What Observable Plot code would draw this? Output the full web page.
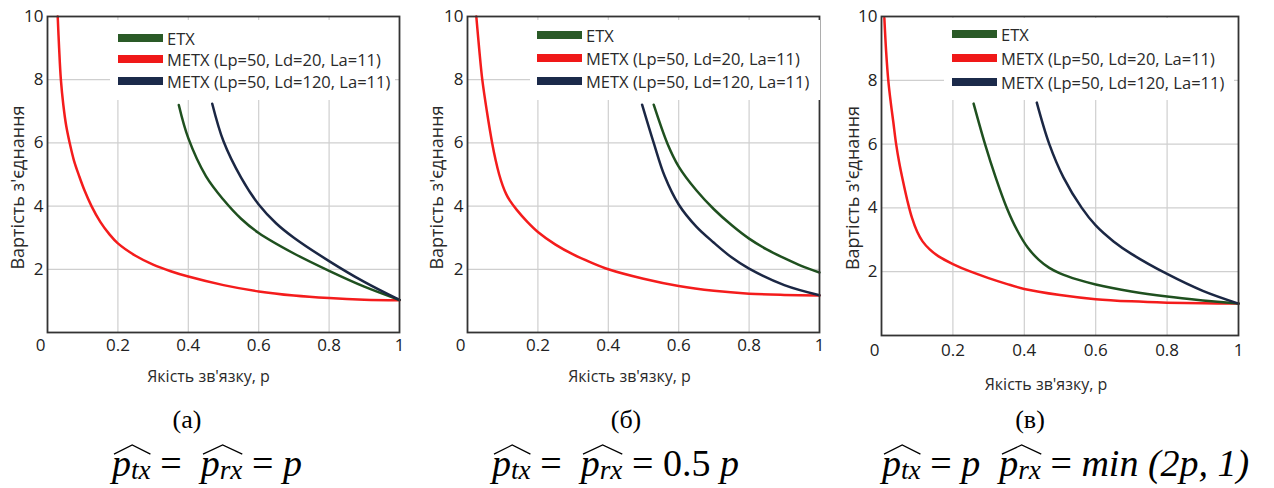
<!DOCTYPE html>
<html>
<head>
<meta charset="utf-8">
<script src="https://cdn.jsdelivr.net/npm/d3@7"></script>
<script src="https://cdn.jsdelivr.net/npm/@observablehq/plot@0.6"></script>
<style>
  body { margin: 0; background: #fff; }
  #root { position: relative; width: 1274px; height: 488px; overflow: hidden; font-family: "Open Sans", sans-serif; }
  .panel { position: absolute; top: 0; }
  .panel svg { overflow: visible; }
  .legend { position: absolute; background: #fff; font-size: 16.5px; color: #2a2a2a; }
  .row { position: absolute; left: 0; white-space: nowrap; display: flex; align-items: center; height: 20px; }
  .sw { display: inline-block; width: 45px; height: 8px; margin-right: 4px; }
  .cap { position: absolute; font-family: "Liberation Serif", "Times New Roman", serif; color: #000; white-space: nowrap; line-height: 1; }
  .f { font-style: italic; }
  .f .up { font-style: normal; }
  .hat { position: relative; display: inline-block; }
  .hat svg { position: absolute; left: 6%; top: 0.02em; width: 94%; height: 0.24em; overflow: visible; }
  .f sub { font-size: 0.72em; vertical-align: -0.12em; line-height: 0; }
</style>
</head>
<body>
<div id="root"></div>
<script>
// ---- data ----
const seriesNames = ["ETX", "METX (Lp=50, Ld=20, La=11)", "METX (Lp=50, Ld=120, La=11)"];
const seriesColors = ["#1f501f", "#f41c1c", "#1b2744"];
const legendColors = ["#2a5a27", "#f01818", "#1b2a4a"];

const xTicks = [0.2, 0.4, 0.6, 0.8, 1];
const xTickLabels = ["0.2", "0.4", "0.6", "0.8", "1"];
const yTicks = [2, 4, 6, 8, 10];
const yTickLabels = ["2", "4", "6", "8", "10"];
const gridX = [0.2, 0.4, 0.6, 0.8];
const gridY = [2, 4, 6, 8];
const xLabel = "Якість зв'язку, p";
const yLabel = "Вартість з'єднання";

// panel (а)
const etxA_p = [0.373, 0.4, 0.45, 0.5, 0.55, 0.6, 0.7, 0.8, 0.9, 1.0];
const etxA_v = [7.2, 6.15, 4.95, 4.2, 3.6, 3.15, 2.5, 1.95, 1.45, 1.03];
const metx20A_p = [0.029, 0.033, 0.038, 0.045, 0.053, 0.063, 0.075, 0.09, 0.105, 0.125, 0.15, 0.175, 0.2, 0.25, 0.3, 0.35, 0.4, 0.5, 0.6, 0.7, 0.8, 0.9, 1.0];
const metx20A_v = [10, 9.0, 8.0, 7.2, 6.55, 6.0, 5.45, 4.95, 4.5, 4.0, 3.5, 3.12, 2.82, 2.43, 2.15, 1.94, 1.77, 1.5, 1.3, 1.17, 1.09, 1.04, 1.02];
const metx120A_p = [0.468, 0.5, 0.55, 0.6, 0.65, 0.7, 0.8, 0.9, 1.0];
const metx120A_v = [7.24, 6.05, 4.9, 4.05, 3.45, 3.0, 2.26, 1.6, 1.03];

// panel (б)
const etxB_p = [0.529, 0.569, 0.6, 0.65, 0.7, 0.75, 0.8, 0.85, 0.9, 0.95, 1.0];
const etxB_v = [7.21, 5.95, 5.25, 4.5, 3.9, 3.4, 2.97, 2.63, 2.35, 2.1, 1.9];
const metx20B_p = [0.025, 0.033, 0.042, 0.055, 0.07, 0.08, 0.09, 0.1, 0.11, 0.12, 0.14, 0.17, 0.2, 0.25, 0.3, 0.35, 0.4, 0.5, 0.6, 0.7, 0.8, 0.9, 1.0];
const metx20B_v = [10, 9, 8, 7, 6, 5.45, 5.0, 4.65, 4.38, 4.18, 3.88, 3.5, 3.18, 2.78, 2.47, 2.22, 2.0, 1.7, 1.47, 1.32, 1.23, 1.19, 1.17];
const metx120B_p = [0.496, 0.529, 0.56, 0.6, 0.65, 0.7, 0.75, 0.8, 0.9, 1.0];
const metx120B_v = [7.21, 6.0, 4.95, 4.05, 3.35, 2.84, 2.38, 2.02, 1.5, 1.18];

// panel (в)
const etxC_p = [0.258, 0.29, 0.32, 0.351, 0.38, 0.41, 0.44, 0.47, 0.5, 0.55, 0.6, 0.7, 0.8, 0.9, 1.0];
const etxC_v = [7.27, 6.0, 4.95, 4.0, 3.3, 2.75, 2.38, 2.12, 1.95, 1.75, 1.6, 1.38, 1.22, 1.1, 1.0];
const metx20C_p = [0.008, 0.013, 0.019, 0.026, 0.033, 0.041, 0.05, 0.06, 0.072, 0.085, 0.1, 0.115, 0.135, 0.16, 0.2, 0.25, 0.3, 0.35, 0.4, 0.5, 0.6, 0.7, 0.8, 0.9, 1.0];
const metx20C_v = [9.95, 8.9, 8.0, 7.3, 6.7, 6.0, 5.4, 4.85, 4.25, 3.7, 3.25, 2.95, 2.7, 2.48, 2.24, 2.0, 1.8, 1.62, 1.46, 1.27, 1.14, 1.07, 1.03, 1.01, 1.0];
const metx120C_p = [0.435, 0.47, 0.51, 0.561, 0.6, 0.65, 0.7, 0.8, 0.9, 1.0];
const metx120C_v = [7.3, 6.0, 4.95, 4.0, 3.45, 2.95, 2.56, 1.93, 1.4, 1.0];

const captions = ["(а)", "(б)", "(в)"];

// ---- layout ----
const panels = [
  { left: 0, width: 420, ml: 47, mr: 21, mb: 68, tickPad: 6, xdx: -15, xdy: 49, ydx: -29, ydy: 13,
    legend: { left: 110, swLeft: 8, top: 20, w: 285, h: 80, rows: [18, 39, 61] },
    data: [[etxA_p, etxA_v], [metx20A_p, metx20A_v], [metx120A_p, metx120A_v]] },
  { left: 420, width: 420, ml: 47, mr: 21, mb: 68, tickPad: 6, xdx: -14, xdy: 49, ydx: -30, ydy: 13,
    legend: { left: 110, swLeft: 7, top: 20, w: 290, h: 80, rows: [15, 38, 61] },
    data: [[etxB_p, etxB_v], [metx20B_p, metx20B_v], [metx120B_p, metx120B_v]] },
  { left: 840, width: 434, ml: 41, mr: 36, mb: 65, tickPad: 8, xdx: -14, xdy: 54, ydx: -28, ydy: 12,
    legend: { left: 104, swLeft: 8, top: 18, w: 290, h: 82, rows: [16, 40, 64] },
    data: [[etxC_p, etxC_v], [metx20C_p, metx20C_v], [metx120C_p, metx120C_v]] }
];

const root = document.getElementById("root");

panels.forEach((cfg, k) => {
  const rows = [];
  cfg.data.forEach(([ps, vs], si) => ps.forEach((p, i) => rows.push({ series: seriesNames[si], p, v: vs[i] })));
  const order = [1, 0, 2];
  const chart = Plot.plot({
    width: cfg.width, height: 400,
    marginLeft: cfg.ml, marginRight: cfg.mr, marginTop: 16, marginBottom: cfg.mb,
    style: { fontFamily: "Open Sans", fontSize: "17px", color: "#222", background: "transparent" },
    x: { domain: [0, 1], label: null },
    y: { domain: [0, 10], label: null },
    color: { domain: seriesNames, range: seriesColors },
    marks: [
      Plot.gridX(gridX, { stroke: "#cfcfcf", strokeOpacity: 1, strokeWidth: 1.2 }),
      Plot.gridY(gridY, { stroke: "#cfcfcf", strokeOpacity: 1, strokeWidth: 1.2 }),
      ...order.map(si => Plot.line(rows.filter(r => r.series === seriesNames[si]),
        { x: "p", y: "v", stroke: "series", strokeWidth: 2.5, curve: "catmull-rom" })),
      Plot.frame({ stroke: "#333", strokeWidth: 1.8 }),
      Plot.axisX(xTicks, { tickSize: 0, tickPadding: cfg.tickPad, label: null, fill: "#222", fontSize: 17,
        tickFormat: d => xTickLabels[xTicks.indexOf(d)] }),
      Plot.axisX([0], { tickSize: 0, tickPadding: cfg.tickPad, dx: -7, label: null, fill: "#222", fontSize: 17,
        tickFormat: () => "0" }),
      Plot.axisY(yTicks, { tickSize: 0, tickPadding: 4, label: null, fill: "#222", fontSize: 17,
        tickFormat: d => yTickLabels[yTicks.indexOf(d)] }),
      Plot.text([xLabel], { frameAnchor: "bottom", textAnchor: "middle", dx: cfg.xdx, dy: cfg.xdy, text: d => d, fontSize: 16, fill: "#2a2a2a" }),
      Plot.text([yLabel], { frameAnchor: "left", textAnchor: "middle", rotate: -90, dx: cfg.ydx, dy: cfg.ydy, text: d => d, fontSize: 18, fill: "#2a2a2a" })
    ]
  });
  const div = document.createElement("div");
  div.className = "panel";
  div.style.left = cfg.left + "px";
  div.appendChild(chart);
  const lg = document.createElement("div");
  lg.className = "legend";
  Object.assign(lg.style, { left: cfg.legend.left + "px", top: cfg.legend.top + "px", width: cfg.legend.w + "px", height: cfg.legend.h + "px" });
  seriesNames.forEach((name, i) => {
    const r = document.createElement("div");
    r.className = "row";
    r.style.top = (cfg.legend.rows[i] - 10) + "px";
    r.style.left = cfg.legend.swLeft + "px";
    const sw = document.createElement("span");
    sw.className = "sw";
    sw.style.background = legendColors[i];
    r.appendChild(sw);
    r.appendChild(document.createTextNode(name));
    lg.appendChild(r);
  });
  div.appendChild(lg);
  root.appendChild(div);
});

// ---- captions ----
const hatSvg = '<svg viewBox="0 0 10 10" preserveAspectRatio="none"><polyline points="0,10 5,0 10,10" fill="none" stroke="#000" stroke-width="1.3" vector-effect="non-scaling-stroke"/></svg>';
const hat = sub => '<span class="hat">p<sub>' + sub + '</sub>' + hatSvg + '</span>';
const capPos = [187, 626, 1030];
captions.forEach((c, i) => {
  const d = document.createElement("div");
  d.className = "cap";
  d.style.left = capPos[i] + "px";
  d.style.top = "407px";
  d.style.fontSize = "26px";
  d.style.transform = "translateX(-50%)";
  d.textContent = c;
  root.appendChild(d);
});
const formulas = [
  { left: 112, html: hat("tx") + ' <span class="up">=</span>&nbsp; ' + hat("rx") + ' <span class="up">=</span> p' },
  { left: 492, html: hat("tx") + ' <span class="up">=</span>&nbsp; ' + hat("rx") + ' <span class="up">= 0.5</span> p' },
  { left: 882, html: hat("tx") + ' <span class="up">=</span> p&nbsp; ' + hat("rx") + ' <span class="up">=</span> min (2p, 1)' }
];
formulas.forEach(f => {
  const d = document.createElement("div");
  d.className = "cap f";
  d.style.left = f.left + "px";
  d.style.top = "444px";
  d.style.fontSize = "38px";
  d.innerHTML = f.html;
  root.appendChild(d);
});
</script>
</body>
</html>
